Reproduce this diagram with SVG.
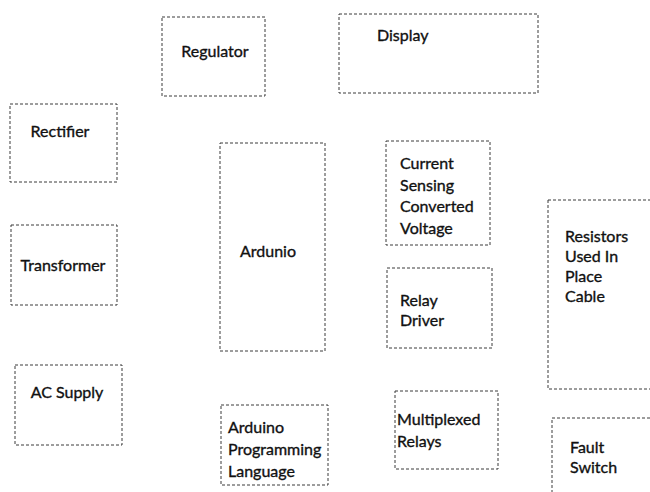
<svg xmlns="http://www.w3.org/2000/svg" width="650" height="492" viewBox="0 0 650 492">
  <style>
    .box { fill: none; stroke: #3a3a3a; stroke-width: 1; stroke-dasharray: 3 2; }
    .lbl { font-family: Lato, "Open Sans", "Liberation Sans", sans-serif; font-size: 16px; fill: #111; stroke: #111; stroke-width: 0.35; }
  </style>
  <rect x="0" y="0" width="650" height="492" fill="#ffffff"/>
  <g id="connectors"></g>
  <g id="regulator">
    <rect class="box" x="162" y="17" width="103" height="79"/>
    <text class="lbl" x="215" y="57" text-anchor="middle">Regulator</text>
  </g>
  <g id="display">
    <rect class="box" x="339" y="14" width="199" height="79"/>
    <text class="lbl" x="377" y="41">Display</text>
  </g>
  <g id="rectifier">
    <rect class="box" x="10" y="104" width="107" height="78"/>
    <text class="lbl" x="60" y="137" text-anchor="middle">Rectifier</text>
  </g>
  <g id="transformer">
    <rect class="box" x="11" y="225" width="106" height="80"/>
    <text class="lbl" x="63" y="271" text-anchor="middle">Transformer</text>
  </g>
  <g id="ac-supply">
    <rect class="box" x="15" y="365" width="107" height="80"/>
    <text class="lbl" x="67" y="398" text-anchor="middle">AC Supply</text>
  </g>
  <g id="ardunio">
    <rect class="box" x="220" y="143" width="105" height="208"/>
    <text class="lbl" x="268" y="257" text-anchor="middle">Ardunio</text>
  </g>
  <g id="arduino-programming-language">
    <rect class="box" x="221" y="405" width="107" height="80"/>
    <text class="lbl" x="228" y="433">Arduino</text>
    <text class="lbl" x="228" y="455">Programming</text>
    <text class="lbl" x="228" y="477">Language</text>
  </g>
  <g id="current-sensing">
    <rect class="box" x="386" y="141" width="104" height="104"/>
    <text class="lbl" x="400" y="169">Current</text>
    <text class="lbl" x="400" y="191">Sensing</text>
    <text class="lbl" x="400" y="212">Converted</text>
    <text class="lbl" x="400" y="234">Voltage</text>
  </g>
  <g id="relay-driver">
    <rect class="box" x="387" y="268" width="105" height="80"/>
    <text class="lbl" x="400" y="306">Relay</text>
    <text class="lbl" x="400" y="326">Driver</text>
  </g>
  <g id="multiplexed-relays">
    <rect class="box" x="395" y="391" width="103" height="78"/>
    <text class="lbl" x="397" y="425">Multiplexed</text>
    <text class="lbl" x="397" y="447">Relays</text>
  </g>
  <g id="resistors">
    <rect class="box" x="548" y="200" width="110" height="189"/>
    <text class="lbl" x="565" y="242">Resistors</text>
    <text class="lbl" x="565" y="262">Used In</text>
    <text class="lbl" x="565" y="282">Place</text>
    <text class="lbl" x="565" y="302">Cable</text>
  </g>
  <g id="fault-switch">
    <rect class="box" x="552" y="418" width="110" height="80"/>
    <text class="lbl" x="570" y="453">Fault</text>
    <text class="lbl" x="570" y="473">Switch</text>
  </g>
</svg>
